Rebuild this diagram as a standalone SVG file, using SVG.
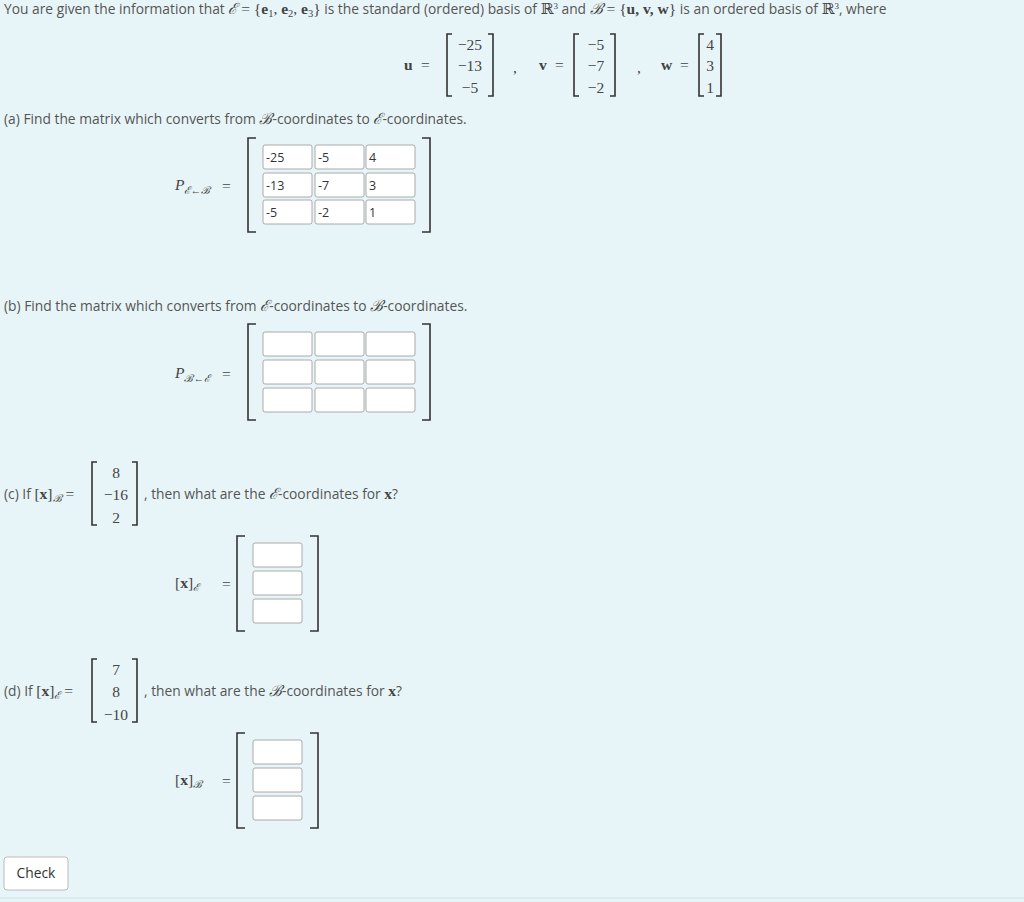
<svg xmlns="http://www.w3.org/2000/svg" width="1024" height="902" viewBox="0 0 1024 902">
<style>
.t{font-family:"Open Sans","Liberation Sans",sans-serif;font-size:13.8px;fill:#555}
.m{font-family:"Liberation Serif","DejaVu Serif",serif;font-size:15.5px;fill:#444}
.s{font-size:10.5px}
.p{font-size:9px}
.b{font-weight:bold}
.i{font-style:italic}
.br{fill:none;stroke:#333;stroke-width:1.6}
.bx{fill:#fff;stroke:#aaa;stroke-width:1}
.v{font-family:"Open Sans","Liberation Sans",sans-serif;font-size:12.5px;fill:#333}
</style>
<rect width="1024" height="902" fill="#e8f5f8"/>
<line x1="0" y1="898" x2="1024" y2="898" stroke="#cde3e8"/>
<g id="header">
<text x="4" y="14" class="t">You are given the information that <tspan class="m i">ℰ</tspan><tspan class="m"> = {</tspan><tspan class="m b">e</tspan><tspan class="m s" dy="3">1</tspan><tspan class="m" dy="-3">, </tspan><tspan class="m b">e</tspan><tspan class="m s" dy="3">2</tspan><tspan class="m" dy="-3">, </tspan><tspan class="m b">e</tspan><tspan class="m s" dy="3">3</tspan><tspan class="m" dy="-3">}</tspan> is the standard (ordered) basis of <tspan class="m">ℝ</tspan><tspan class="m p" dy="-5">3</tspan><tspan dy="5"> and </tspan><tspan class="m i">ℬ</tspan><tspan class="m"> = {</tspan><tspan class="m b">u, v, w</tspan><tspan class="m">}</tspan> is an ordered basis of <tspan class="m">ℝ</tspan><tspan class="m p" dy="-5">3</tspan><tspan dy="5">, where</tspan></text>
</g>
<g id="vectors">
<text x="404" y="70" class="m b">u</text><text x="421" y="70" class="m">=</text>
<path class="br" d="M452,34 H447 V96 H452 M488,34 H493 V96 H488"/>
<text x="470" y="50" class="m" text-anchor="middle">−25</text>
<text x="470" y="71" class="m" text-anchor="middle">−13</text>
<text x="470" y="93" class="m" text-anchor="middle">−5</text>
<text x="513" y="73" class="m">,</text>
<text x="539" y="70" class="m b">v</text><text x="555" y="70" class="m">=</text>
<path class="br" d="M579,34 H574 V96 H579 M610,34 H615 V96 H610"/>
<text x="596" y="50" class="m" text-anchor="middle">−5</text>
<text x="596" y="71" class="m" text-anchor="middle">−7</text>
<text x="596" y="93" class="m" text-anchor="middle">−2</text>
<text x="637" y="73" class="m">,</text>
<text x="661" y="70" class="m b">w</text><text x="680" y="70" class="m">=</text>
<path class="br" d="M704,34 H699 V96 H704 M716,34 H721 V96 H716"/>
<text x="710" y="50" class="m" text-anchor="middle">4</text>
<text x="710" y="71" class="m" text-anchor="middle">3</text>
<text x="710" y="93" class="m" text-anchor="middle">1</text>
</g>
<g id="partA">
<text x="4" y="124" class="t">(a) Find the matrix which converts from <tspan class="m i">ℬ</tspan>-coordinates to <tspan class="m i">ℰ</tspan>-coordinates.</text>
<text x="175" y="190" class="m i">P<tspan class="s" dy="4">ℰ←ℬ</tspan></text>
<text x="222" y="191" class="m">=</text>
<path class="br" d="M256,138 H248 V232 H256 M422,138 H430 V232 H422"/>
<rect class="bx" x="263" y="145" width="49" height="24" rx="2"/><rect class="bx" x="315" y="145" width="49" height="24" rx="2"/><rect class="bx" x="366" y="145" width="49" height="24" rx="2"/>
<rect class="bx" x="263" y="173" width="49" height="24" rx="2"/><rect class="bx" x="315" y="173" width="49" height="24" rx="2"/><rect class="bx" x="366" y="173" width="49" height="24" rx="2"/>
<rect class="bx" x="263" y="200" width="49" height="24" rx="2"/><rect class="bx" x="315" y="200" width="49" height="24" rx="2"/><rect class="bx" x="366" y="200" width="49" height="24" rx="2"/>
<text x="266" y="162" class="v">-25</text><text x="318" y="162" class="v">-5</text><text x="369" y="162" class="v">4</text>
<text x="266" y="190" class="v">-13</text><text x="318" y="190" class="v">-7</text><text x="369" y="190" class="v">3</text>
<text x="266" y="217" class="v">-5</text><text x="318" y="217" class="v">-2</text><text x="369" y="217" class="v">1</text>
</g>
<g id="partB">
<text x="4" y="311" class="t">(b) Find the matrix which converts from <tspan class="m i">ℰ</tspan>-coordinates to <tspan class="m i">ℬ</tspan>-coordinates.</text>
<text x="175" y="378" class="m i">P<tspan class="s" dy="4">ℬ←ℰ</tspan></text>
<text x="222" y="379" class="m">=</text>
<path class="br" d="M256,324 H248 V420 H256 M422,324 H430 V420 H422"/>
<rect class="bx" x="263" y="332" width="49" height="24" rx="2"/><rect class="bx" x="315" y="332" width="49" height="24" rx="2"/><rect class="bx" x="366" y="332" width="49" height="24" rx="2"/>
<rect class="bx" x="263" y="360" width="49" height="24" rx="2"/><rect class="bx" x="315" y="360" width="49" height="24" rx="2"/><rect class="bx" x="366" y="360" width="49" height="24" rx="2"/>
<rect class="bx" x="263" y="388" width="49" height="24" rx="2"/><rect class="bx" x="315" y="388" width="49" height="24" rx="2"/><rect class="bx" x="366" y="388" width="49" height="24" rx="2"/>
</g>
<g id="partC">
<text x="4" y="499" class="t">(c) If <tspan class="m">[</tspan><tspan class="m b">x</tspan><tspan class="m">]</tspan><tspan class="m i s" dy="3">ℬ</tspan><tspan class="m" dy="-3"> =</tspan></text>
<path class="br" d="M97,462 H92 V525 H97 M132,462 H137 V525 H132"/>
<text x="116" y="478" class="m" text-anchor="middle">8</text>
<text x="116" y="500" class="m" text-anchor="middle">−16</text>
<text x="116" y="523" class="m" text-anchor="middle">2</text>
<text x="144" y="499" class="t">, then what are the <tspan class="m i">ℰ</tspan>-coordinates for <tspan class="m b">x</tspan>?</text>
<text x="175" y="588" class="m">[<tspan class="b">x</tspan>]<tspan class="i s" dy="3">ℰ</tspan></text>
<text x="222" y="589" class="m">=</text>
<path class="br" d="M245,536 H237 V631 H245 M310,536 H318 V631 H310"/>
<rect class="bx" x="253" y="543" width="49" height="24" rx="2"/>
<rect class="bx" x="253" y="571" width="49" height="24" rx="2"/>
<rect class="bx" x="253" y="599" width="49" height="24" rx="2"/>
</g>
<g id="partD">
<text x="4" y="696" class="t">(d) If <tspan class="m">[</tspan><tspan class="m b">x</tspan><tspan class="m">]</tspan><tspan class="m i s" dy="3">ℰ</tspan><tspan class="m" dy="-3"> =</tspan></text>
<path class="br" d="M97,659 H92 V722 H97 M132,659 H137 V722 H132"/>
<text x="116" y="675" class="m" text-anchor="middle">7</text>
<text x="116" y="697" class="m" text-anchor="middle">8</text>
<text x="116" y="720" class="m" text-anchor="middle">−10</text>
<text x="144" y="696" class="t">, then what are the <tspan class="m i">ℬ</tspan>-coordinates for <tspan class="m b">x</tspan>?</text>
<text x="175" y="785" class="m">[<tspan class="b">x</tspan>]<tspan class="i s" dy="3">ℬ</tspan></text>
<text x="222" y="786" class="m">=</text>
<path class="br" d="M245,733 H237 V828 H245 M310,733 H318 V828 H310"/>
<rect class="bx" x="253" y="740" width="49" height="24" rx="2"/>
<rect class="bx" x="253" y="768" width="49" height="24" rx="2"/>
<rect class="bx" x="253" y="796" width="49" height="24" rx="2"/>
</g>
<g id="check">
<rect x="4" y="857" width="64" height="33" rx="3" fill="#fff" stroke="#bbb"/>
<text x="36" y="878" class="t" text-anchor="middle" style="fill:#333">Check</text>
</g>
</svg>
